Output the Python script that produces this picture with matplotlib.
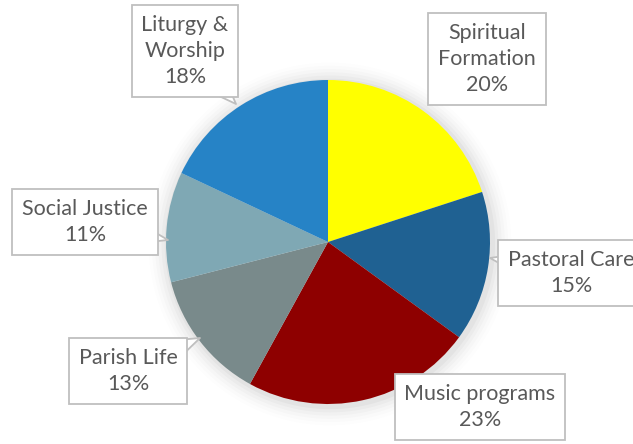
import matplotlib.pyplot as plt
import numpy as np

labels = ["Spiritual\nFormation", "Pastoral Care", "Music programs",
          "Parish Life", "Social Justice", "Liturgy &\nWorship"]
shares = [20, 15, 23, 13, 11, 18]
colors = ["#FFFF00", "#1F6192", "#8E0000", "#798A8B", "#7FA8B4", "#2683C6"]

# label box centres (pixels in the 633x444 picture) and where the tail points
box_px = [(487, 59), (571, 273), (480, 407), (128, 371), (85, 222), (185, 51)]
tip_px = [(432, 103), (490, 258), (398, 381), (200, 338), (168, 240), (236, 104)]

W, H = 633, 444
cx, cy, r = 328, 242, 162


def to_data(p):
    return ((p[0] - cx) / r, (cy - p[1]) / r)


plt.rcParams["font.family"] = ["Lato", "DejaVu Sans"]
fig = plt.figure(figsize=(W / 100, H / 100), dpi=100)
ax = fig.add_axes([0, 0, 1, 1])

# soft shadow behind the pie
for i, a in enumerate(np.linspace(0.03, 0.006, 6)):
    ax.add_patch(plt.Circle((0.012, -0.012), 1 + 0.02 * (i + 1), color="black",
                            alpha=a, lw=0, zorder=0))

ax.pie(shares, colors=colors, startangle=90, counterclock=False, radius=1,
       wedgeprops=dict(linewidth=0), frame=True)
ax.set_xlim(-cx / r, (W - cx) / r)
ax.set_ylim(-(H - cy) / r, cy / r)
ax.set_aspect("auto")
ax.axis("off")

for lab, s, b, t in zip(labels, shares, box_px, tip_px):
    ax.annotate(f"{lab}\n{s}%", xy=to_data(t), xytext=to_data(b),
                ha="center", va="center", fontsize=15.5, color="#595959",
                linespacing=1.38, zorder=5,
                bbox=dict(boxstyle="square,pad=0.45", fc="white", ec="#BFBFBF", lw=1.3),
                arrowprops=dict(arrowstyle="wedge,tail_width=2.6,shrink_factor=0.5",
                                patchA=None, shrinkA=0, shrinkB=0,
                                fc="white", ec="#BFBFBF", lw=1.3))

fig.savefig("out.png", dpi=100)
